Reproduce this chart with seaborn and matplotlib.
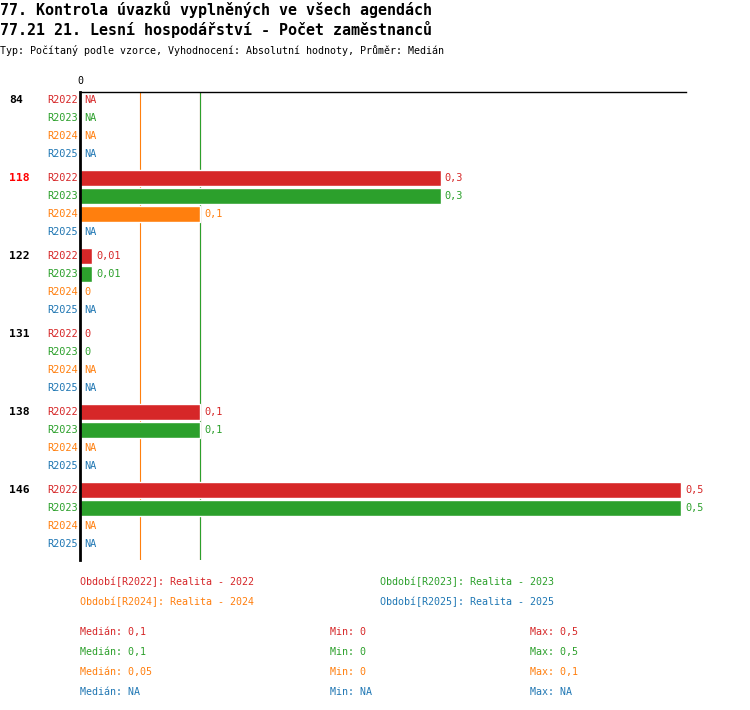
import matplotlib
matplotlib.use("Agg")
import matplotlib.pyplot as plt
import seaborn as sns
import pandas as pd
import numpy as np

# data
groups = ["84", "118", "122", "131", "138", "146"]
series = ["R2022", "R2023", "R2024", "R2025"]
values = {
    "R2022": [np.nan, 0.3, 0.01, 0, 0.1, 0.5],
    "R2023": [np.nan, 0.3, 0.01, 0, 0.1, 0.5],
    "R2024": [np.nan, 0.1, 0, np.nan, np.nan, np.nan],
    "R2025": [np.nan, np.nan, np.nan, np.nan, np.nan, np.nan],
}
legend_labels = ["Období[R2022]: Realita - 2022", "Období[R2023]: Realita - 2023",
                 "Období[R2024]: Realita - 2024", "Období[R2025]: Realita - 2025"]
highlight = "118"
colors = ["#d62728", "#2ca02c", "#ff7f0e", "#1f77b4"]

title1 = "77. Kontrola úvazků vyplněných ve všech agendách"
title2 = "77.21 21. Lesní hospodářství - Počet zaměstnanců"
subtitle = "Typ: Počítaný podle vzorce, Vyhodnocení: Absolutní hodnoty, Průměr: Medián"

W, H = 750, 710
ROW, GROUP = 18, 78

rows = []
for gi, g in enumerate(groups):
    for si, s in enumerate(series):
        rows.append({"group": g, "series": s, "value": values[s][gi],
                     "pos": gi * GROUP + si * ROW + 8})
df = pd.DataFrame(rows)


def fmt(v):
    if pd.isna(v):
        return "NA"
    return f"{v:g}".replace(".", ",")


sns.set_style("white")
plt.rcParams["font.family"] = ["DejaVu Sans Mono", "DejaVu Sans"]
plt.rcParams["text.color"] = "black"
plt.rcParams["xtick.color"] = "black"

fig = plt.figure(figsize=(W / 100, H / 100), dpi=100)
ax = fig.add_axes([80 / W, (H - 560) / H, 606 / W, 468 / H])

sns.barplot(data=df.dropna(subset=["value"]), x="value", y="pos", hue="series",
            hue_order=series, palette=colors, orient="h", native_scale=True,
            dodge=False, width=0.9, legend=False, ax=ax, saturation=1)

ax.set_xlim(0, 606 / 1202)
ax.set_ylim(468, 0)
ax.set_xlabel("")
ax.set_ylabel("")
ax.set_yticks([])
ax.xaxis.tick_top()
ax.set_xticks([0])
ax.set_xticklabels(["0"], fontsize=7.2)
ax.tick_params(axis="x", length=0, pad=4)
for side in ["bottom", "right"]:
    ax.spines[side].set_visible(False)
ax.spines["top"].set_linewidth(1)
ax.spines["left"].set_linewidth(2)
ax.spines["top"].set_color("black")
ax.spines["left"].set_color("black")

# median lines
for s, c in zip(series, colors):
    med = df.loc[df.series == s, "value"].median()
    if not pd.isna(med):
        ax.axvline(med, color=c, lw=0.8, zorder=0)

ytr = ax.get_yaxis_transform()
for _, r in df.iterrows():
    c = colors[series.index(r.series)]
    v = 0 if pd.isna(r.value) else r.value
    ax.annotate(fmt(r.value), (v, r.pos), xytext=(3, 0), textcoords="offset points",
                ha="left", va="center", color=c, fontsize=7.4)
    ax.text(-2 / 606, r.pos, r.series, transform=ytr, ha="right", va="center",
            color=c, fontsize=7.4)

for gi, g in enumerate(groups):
    ax.text(-71 / 606, gi * GROUP + 8, g, transform=ytr, ha="left", va="center",
            color="red" if g == highlight else "black", fontsize=8.2, fontweight="bold")


def ftext(x, y, s, **kw):
    fig.text(x / W, 1 - y / H, s, va="center", **kw)


ftext(0, 10, title1, fontsize=10.8, fontweight="bold")
ftext(0, 30, title2, fontsize=10.8, fontweight="bold")
ftext(0, 50, subtitle, fontsize=7.2)

for i, (lab, c) in enumerate(zip(legend_labels, colors)):
    ftext(80 + 300 * (i % 2), 582 + 20 * (i // 2), lab, color=c, fontsize=7.2)

for i, (s, c) in enumerate(zip(series, colors)):
    vals = df.loc[df.series == s, "value"]
    y = 632 + 20 * i
    ftext(80, y, "Medián: " + fmt(vals.median()), color=c, fontsize=7.2)
    ftext(330, y, "Min: " + fmt(vals.min()), color=c, fontsize=7.2)
    ftext(530, y, "Max: " + fmt(vals.max()), color=c, fontsize=7.2)

fig.savefig("out.png", dpi=100)
